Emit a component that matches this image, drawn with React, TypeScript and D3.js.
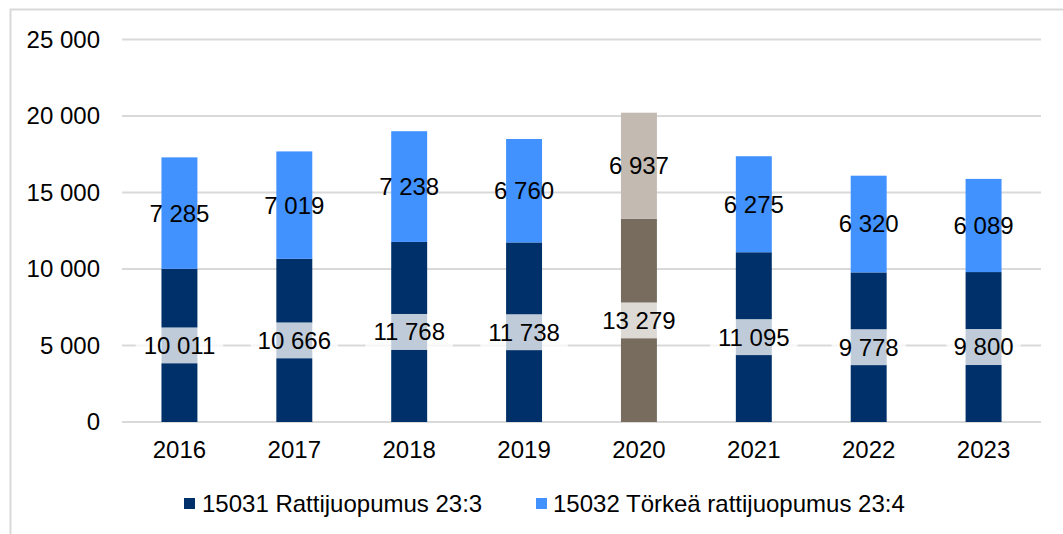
import React from "react";
import * as d3 from "d3";

const years = ["2016", "2017", "2018", "2019", "2020", "2021", "2022", "2023"];
const rattijuopumus = [10011, 10666, 11768, 11738, 13279, 11095, 9778, 9800];
const torkea = [7285, 7019, 7238, 6760, 6937, 6275, 6320, 6089];
const yTicks = [0, 5000, 10000, 15000, 20000, 25000];
const seriesNames = ["15031 Rattijuopumus 23:3", "15032 Törkeä rattijuopumus 23:4"];
const highlightYear = "2020";

const W = 1063;
const H = 534;
const NAVY = "#003069";
const BLUE = "#4191ff";
const BROWN = "#776c5e";
const BEIGE = "#c3bab1";
const GRID = "#d9d9d9";
const FONT = "'Liberation Sans', Arial, sans-serif";

const fmt = (v: number) => {
  const s = String(Math.round(v));
  return s.replace(/\B(?=(\d{3})+(?!\d))/g, " ");
};

export default function App() {
  const x = d3
    .scaleBand<string>()
    .domain(years)
    .range([122, 1041])
    .paddingInner(0.687)
    .paddingOuter(0.3435);
  const y = d3.scaleLinear().domain([0, 25000]).range([422, 39.5]);
  const bw = x.bandwidth();

  return (
    <svg
      width={W}
      height={H}
      style={{ position: "fixed", left: 0, top: 0, background: "#fff" }}
      fontFamily={FONT}
    >
      <rect x={0} y={0} width={W} height={H} fill="#fff" />
      <rect x={10.5} y={9.5} width={W + 10} height={H + 10} fill="none" stroke={GRID} strokeWidth={2} />
      {yTicks.map((t) => (
        <g key={t}>
          <line x1={122} x2={1041} y1={y(t)} y2={y(t)} stroke={GRID} strokeWidth={2} />
          <text x={100} y={y(t)} dy="0.35em" textAnchor="end" fontSize={24} fill="#000">
            {fmt(t)}
          </text>
        </g>
      ))}
      {years.map((yr, i) => {
        const x0 = x(yr)!;
        const a = rattijuopumus[i];
        const b = torkea[i];
        const hl = yr === highlightYear;
        return (
          <g key={yr}>
            <rect x={x0} y={y(a)} width={bw} height={y(0) - y(a)} fill={hl ? BROWN : NAVY} />
            <rect x={x0} y={y(a + b)} width={bw} height={y(a) - y(a + b)} fill={hl ? BEIGE : BLUE} />
          </g>
        );
      })}
      {years.map((yr, i) => {
        const cx = x(yr)! + bw / 2;
        const a = rattijuopumus[i];
        const b = torkea[i];
        const la = fmt(a);
        const wa = la.length * 13.35 - 6.6 + 14;
        return (
          <g key={"l" + yr}>
            <rect x={cx - wa / 2} y={y(a / 2) - 18} width={wa} height={36} fill="#fff" fillOpacity={0.75} />
            <text x={cx} y={y(a / 2)} dy="0.35em" textAnchor="middle" fontSize={24} fill="#000">
              {la}
            </text>
            <text x={cx} y={y(a + b / 2)} dy="0.35em" textAnchor="middle" fontSize={24} fill="#000">
              {fmt(b)}
            </text>
            <text x={cx} y={450} dy="0.35em" textAnchor="middle" fontSize={24} fill="#000">
              {yr}
            </text>
          </g>
        );
      })}
      <g>
        <rect x={184} y={498} width={11} height={11} fill={NAVY} />
        <text x={202} y={503.5} dy="0.35em" fontSize={24} fill="#000">
          {seriesNames[0]}
        </text>
        <rect x={536} y={498} width={11} height={11} fill={BLUE} />
        <text x={553} y={503.5} dy="0.35em" fontSize={24} fill="#000">
          {seriesNames[1]}
        </text>
      </g>
    </svg>
  );
}
